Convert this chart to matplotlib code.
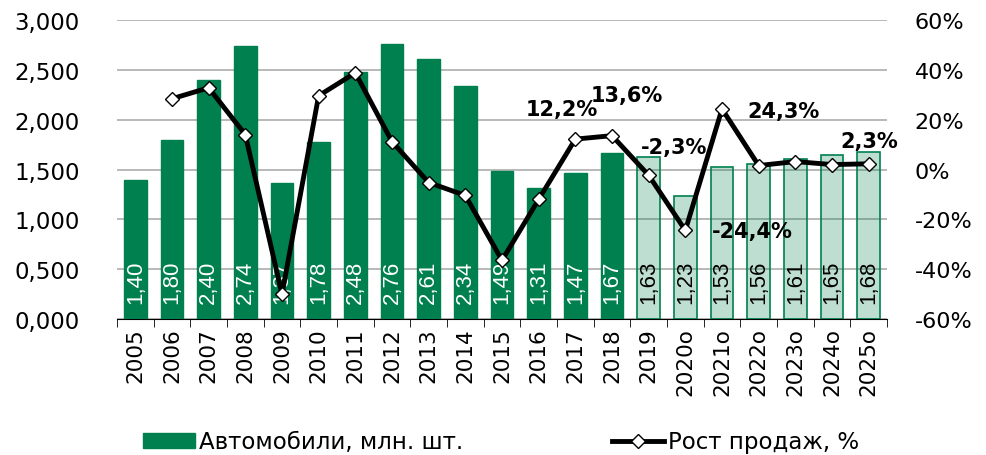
import numpy as np
import matplotlib
matplotlib.use('Agg')
import matplotlib.pyplot as plt
from matplotlib.patches import Patch
from matplotlib.lines import Line2D
from matplotlib.ticker import FuncFormatter, FixedLocator

years = ['2005', '2006', '2007', '2008', '2009', '2010', '2011', '2012', '2013', '2014',
         '2015', '2016', '2017', '2018', '2019', '2020o', '2021o', '2022o', '2023o', '2024o', '2025o']
cars = [1.40, 1.80, 2.40, 2.74, 1.37, 1.78, 2.48, 2.76, 2.61, 2.34,
        1.49, 1.31, 1.47, 1.67, 1.63, 1.23, 1.53, 1.56, 1.61, 1.65, 1.68]
growth = [np.nan, 28.4, 32.8, 14.0, -50.0, 29.6, 38.8, 11.2, -5.2, -10.4,
          -36.4, -12.0, 12.2, 13.6, -2.3, -24.4, 24.3, 1.6, 3.2, 2.0, 2.3]
n_fact = 14  # 2005-2018 are actual, rest forecast

# which points get a label, and where the label sits (pixels from the point)
label_idx = [12, 13, 14, 15, 16, 20]
label_off = [(-14, 30), (15, 41), (25, 28), (67, -1), (61, -2), (1, 23)]

green = '#00804F'
light = (0.0, 0.5, 0.31, 0.26)

plt.rcParams['font.family'] = 'DejaVu Sans'

fig = plt.figure(figsize=(9.87, 4.56), dpi=100)
ax = fig.add_axes([0.1185, 0.298, 0.7802, 0.656])
ax2 = ax.twinx()

x = np.arange(len(years))
for i in x:
    if i < n_fact:
        ax.bar(i, cars[i], width=0.62, color=green, edgecolor=green, zorder=3)
        tc = 'white'
    else:
        ax.bar(i, cars[i], width=0.62, facecolor=light, edgecolor=green, linewidth=1.2, zorder=3)
        tc = 'black'
    ax.annotate(f'{cars[i]:.2f}'.replace('.', ','), (i, 0), xytext=(0, 16),
                textcoords='offset pixels', rotation=90, ha='center', va='bottom',
                color=tc, fontsize=16, family='Liberation Sans', zorder=4)

ax.set_xlim(-0.5, len(years) - 0.5)
ax.set_ylim(0, 3)
ax.set_yticks(np.arange(0, 3.01, 0.5))
ax.yaxis.set_major_formatter(FuncFormatter(lambda v, p: f'{v:.3f}'.replace('.', ',')))
ax.grid(axis='y', color='#a6a6a6', linewidth=1.1, zorder=0)
ax.set_axisbelow(True)
ax.set_xticks(x)
ax.set_xticklabels(years, rotation=90, fontsize=15.5)
ax.xaxis.set_minor_locator(FixedLocator(np.arange(-0.5, len(years), 1)))
ax.tick_params(axis='x', which='major', length=0, pad=6)
ax.tick_params(axis='x', which='minor', length=6, color='black')
ax.tick_params(axis='y', length=0, labelsize=16.5, pad=27)
for s in ['left', 'right', 'top']:
    ax.spines[s].set_visible(False)
    ax2.spines[s].set_visible(False)
ax2.spines['bottom'].set_visible(False)
ax.spines['bottom'].set_color('black')

ax2.plot(x, growth, color='black', linewidth=3.5, marker='D', markersize=7.5,
         markerfacecolor='white', markeredgecolor='black', markeredgewidth=1, zorder=5)
ax2.set_ylim(-60, 60)
ax2.set_yticks(np.arange(-60, 61, 20))
ax2.yaxis.set_major_formatter(FuncFormatter(lambda v, p: f'{v:.0f}%'))
ax2.tick_params(axis='y', length=0, labelsize=16, pad=20)

for i, off in zip(label_idx, label_off):
    ax2.annotate(f'{growth[i]:.1f}%'.replace('.', ','), (i, growth[i]), xytext=off,
                 textcoords='offset pixels', ha='center', va='center',
                 fontsize=15, fontweight='bold', zorder=6)

h1 = Patch(facecolor=green, edgecolor=green)
h2 = Line2D([], [], color='black', linewidth=3.5, marker='D', markersize=7,
            markerfacecolor='white', markeredgecolor='black')
lf = dict(frameon=False, handlelength=2.3, handleheight=0.6, handletextpad=0.15,
          prop={'family': 'DejaVu Sans', 'size': 16.5})
fig.legend([h1], ['Автомобили, млн. шт.'], loc='center left',
           bbox_to_anchor=(122 / 987, 1 - 443 / 456), **lf)
fig.legend([h2], ['Рост продаж, %'], loc='center left',
           bbox_to_anchor=(591 / 987, 1 - 443 / 456), **lf)

fig.savefig('out.png', dpi=100)
